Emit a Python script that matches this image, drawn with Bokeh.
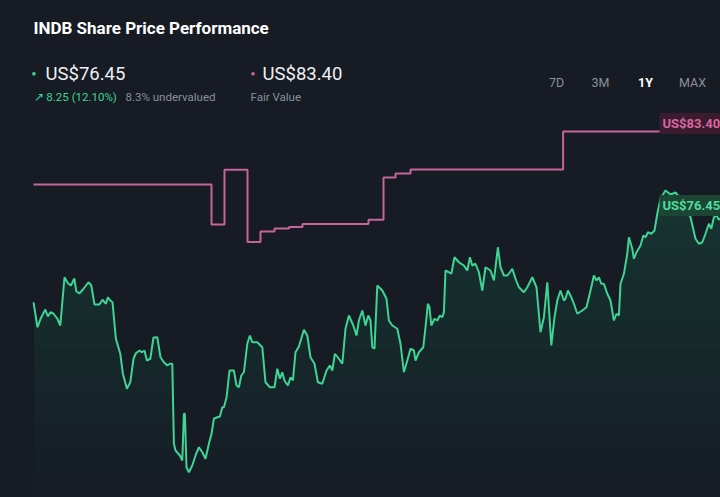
# INDB share price vs fair value, 1Y view (dark card)
import numpy as np
from bokeh.embed import file_html
from bokeh.models import GlobalInlineStyleSheet, Label, Range1d
from bokeh.plotting import figure
from bokeh.resources import INLINE

# share price (US$) by day within the 1Y window
day = [0, 2, 3.6, 5.9, 7.2, 8.5, 9.9, 11.9, 13.4, 15.5, 17.2, 18.7, 20.4, 21.4, 22.9, 24.7,
       27.5, 28.9, 30.5, 32.9, 34.5, 36.2, 37.2, 38.4, 39.5, 41.2, 43.4, 44.7, 46.7, 48.4,
       50, 51.2, 53, 54.2, 55.5, 56.7, 58.4, 60, 61.9, 63.5, 65.2, 66.9, 68.2, 69.4, 70.2,
       71, 73.2, 74.4, 75.2, 75.7, 76.5, 77.7, 79.4, 81, 82.7, 84.4, 86, 87.7, 89, 90.2,
       91.9, 93.2, 94.4, 95.2, 96.5, 98, 100.2, 101.5, 102.7, 103.9, 105.2, 106.9, 108.2,
       109.4, 111.9, 114.4, 116, 118.2, 120.5, 121.9, 123.2, 124.4, 125.5, 127.2, 128.5,
       129.7, 131, 132.7, 135.2, 136.9, 138.5, 140.5, 142.2, 144.4, 146.5, 148.2, 149.4,
       150.7, 152.7, 154.4, 156, 157.7, 159.9, 161.5, 162.7, 164.4, 166, 167.4, 168.5,
       169.4, 170.5, 171.9, 174.4, 176.5, 177.7, 179.4, 181.9, 183.5, 185.2, 186.9, 188.5,
       190.2, 191, 192.7, 194.9, 196, 197.2, 198, 198.9, 200.5, 201.9, 203.2, 204.4, 205.2,
       206, 207.7, 208.9, 210.5, 212.7, 215.2, 216.9, 218.2, 219.4, 221, 222.7, 224.4, 226,
       228.5, 230.2, 232.2, 233.5, 235.2, 236.9, 238.2, 239.4, 241, 242.7, 245.2, 246.9,
       249.4, 251.5, 253.5, 255.2, 256.9, 258.9, 260.5, 261.9, 263.5, 265.2, 266, 267.2,
       268.9, 270.2, 271.9, 274.4, 276.5, 278.5, 280.2, 281.5, 282.7, 283.9, 285.2, 286.9,
       288.5, 290.2, 291.5, 292.7, 293.5, 295.2, 296.9, 297.7, 299.4, 300.2, 301.5, 303.5,
       304.9, 306, 307.2, 308.9, 310.5, 311.9, 313.5, 316, 318.5, 321, 323.5, 326, 328.5,
       331, 332.7, 334.4, 336, 337.7, 338.9, 340.2, 341.5, 342.7, 343.5]
price = [69.74, 67.74, 68.44, 69.16, 68.60, 68.94, 68.84, 68.44, 67.88, 71.74, 71.26, 71.08,
         71.64, 70.62, 70.44, 70.76, 71.34, 71.08, 69.56, 69.56, 69.94, 69.62, 70.14, 69.88,
         69.74, 66.82, 65.62, 64.02, 62.82, 63.34, 65.22, 65.66, 65.88, 65.74, 65.88, 65.08,
         65.22, 66.92, 66.94, 65.34, 64.94, 64.68, 64.82, 64.82, 58.42, 57.88, 57.48, 57.08,
         60.82, 60.82, 56.54, 56.14, 56.68, 57.48, 58.14, 57.74, 57.22, 58.42, 59.22, 60.42,
         60.54, 60.60, 61.34, 61.34, 62.10, 64.28, 64.28, 63.08, 62.94, 63.88, 64.14, 66.42,
         67.08, 66.54, 66.54, 66.14, 63.34, 62.94, 62.94, 64.42, 63.62, 64.14, 63.48, 63.08,
         63.74, 63.48, 65.74, 66.20, 67.54, 67.08, 65.34, 64.82, 63.34, 63.22, 64.28, 64.68,
         64.28, 65.62, 65.22, 64.82, 67.62, 68.68, 67.88, 67.08, 68.28, 69.08, 67.88, 68.68,
         68.28, 66.14, 66.02, 71.08, 70.68, 70.02, 68.28, 67.88, 67.62, 66.42, 64.14, 65.08,
         66.02, 65.88, 65.08, 65.74, 66.14, 67.74, 69.62, 69.34, 67.88, 68.42, 68.28, 68.68,
         68.54, 68.94, 72.28, 72.14, 72.02, 73.34, 72.94, 72.68, 72.28, 73.34, 72.68, 72.82,
         72.14, 70.68, 72.54, 72.28, 71.48, 74.14, 72.54, 71.88, 71.88, 72.14, 72.42, 71.62,
         70.94, 70.54, 70.94, 71.74, 70.94, 67.34, 68.54, 71.34, 66.28, 68.54, 69.88, 70.68,
         69.88, 70.02, 70.68, 70.14, 69.62, 68.82, 69.08, 69.34, 70.68, 71.88, 71.48, 71.74,
         71.22, 71.22, 70.42, 69.88, 68.28, 68.82, 68.68, 71.22, 72.02, 73.62, 74.94, 74.02,
         73.22, 73.74, 74.28, 75.08, 74.94, 75.34, 75.22, 75.48, 76.82, 78.04, 78.68, 78.36,
         78.52, 78.04, 77.40, 76.54, 74.82, 74.42, 74.54, 75.22, 76.02, 75.62, 76.54, 76.68,
         76.34, 76.45]

# fair value estimate (US$), changes at these days
fv_day = [0, 89, 95.5, 107, 113.5, 120.5, 127.8, 134.5, 167.5, 175, 181, 188.5, 264.8, 343.5]
fv_price = [79.16, 75.96, 80.34, 74.56, 75.40, 75.64, 75.76, 76.00, 76.34, 79.72, 80.04,
            80.36, 83.40, 83.40]

periods = ["7D", "3M", "1Y", "MAX"]

BG = "#161b24"
GREEN = "#3fd394"
PINK = "#c6659a"
GREY = "#8b9099"
W, H = 720, 497

p = figure(width=W, height=H, output_backend="svg", toolbar_location=None,
           x_range=Range1d(-16.5, 343.5), y_range=Range1d(54.12, 93.88),
           x_axis_location=None, y_axis_location=None, min_border=0,
           background_fill_color=BG, border_fill_color=BG, outline_line_color=None)
p.grid.grid_line_color = None
p.stylesheets = [GlobalInlineStyleSheet(css=f"body{{margin:0;background:{BG};overflow:hidden}}")]

# soft fade under the price line, brighter higher up
pr = np.array(price)
for t in np.linspace(54.12, 76, 12):
    p.varea(x=day, y1=price, y2=np.minimum(pr, t), fill_color=GREEN, fill_alpha=0.015)

p.line(day, price, line_color=GREEN, line_width=2)
p.step(fv_day, fv_price, mode="after", line_color=PINK, line_width=2)


def lab(x, y, text, size, color, style="normal", **kw):
    p.add_layout(Label(x=x, y=H - y, x_units="screen", y_units="screen", text=text,
                       text_font="Roboto", text_font_size=size, text_color=color,
                       text_font_style=style, text_baseline="middle", **kw))


lab(33, 27, "INDB Share Price Performance", "17px", "#ffffff", "bold")
lab(31, 73, "●", "8px", GREEN)
lab(45, 73, "US$" + f"{price[-1]:.2f}", "18.5px", "#eef0f2")
lab(250, 73, "●", "8px", PINK)
lab(262, 73, "US$" + f"{fv_price[-1]:.2f}", "18.5px", "#eef0f2")
lab(33, 96, "↗ 8.25 (12.10%)", "11.5px", GREEN)
lab(125, 96, "8.3% undervalued", "11.5px", GREY)
lab(250, 96, "Fair Value", "11.5px", GREY)

for name, cx in zip(periods, [556, 600, 645, 692]):
    sel = name == "1Y"
    lab(cx, 82, name, "12.5px", "#ffffff" if sel else GREY, "bold" if sel else "normal",
        text_align="center")

# value pills at the right edge
lab(659, 123, "US$" + f"{fv_price[-1]:.2f}", "13px", "#d8669f", "bold",
    background_fill_color="#3a1c2e", padding=3)
lab(659, 205, "US$" + f"{price[-1]:.2f}", "13px", "#4fdc9c", "bold",
    background_fill_color="#1c4634", padding=3)

open("out.html", "w").write(file_html(p, INLINE))
